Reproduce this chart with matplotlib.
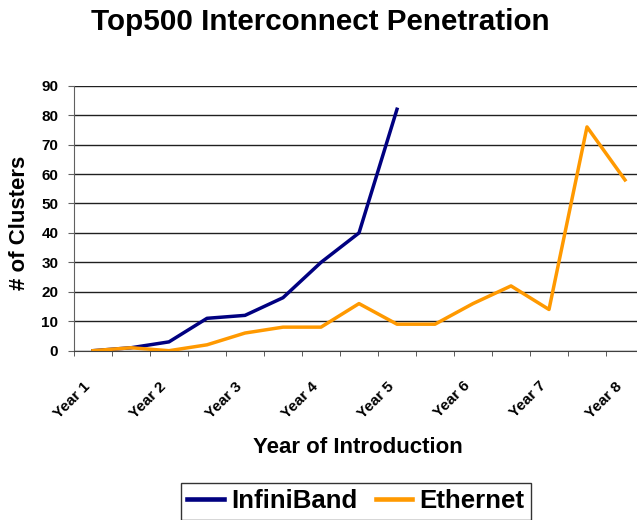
import matplotlib
matplotlib.use("Agg")
import matplotlib.pyplot as plt
from matplotlib.ticker import FixedLocator

plt.rcParams['font.family'] = ['Liberation Sans', 'DejaVu Sans']

tick_labels = ["Year 1", "Year 2", "Year 3", "Year 4", "Year 5", "Year 6", "Year 7", "Year 8"]
infiniband = [0, 1, 3, 11, 12, 18, 30, 40, 82]
ethernet = [0, 1, 0, 2, 6, 8, 8, 16, 9, 9, 16, 22, 14, 76, 58]

fig = plt.figure(figsize=(6.37, 5.2), dpi=100)
ax = fig.add_axes([74/637, 1-350.7/520, 1-74/637, (350.7-85.7)/520])

ax.plot(range(len(infiniband)), infiniband, color='#000080', lw=2.5, label='InfiniBand')
ax.plot(range(len(ethernet)), ethernet, color='#FF9900', lw=2.5, label='Ethernet')

ax.set_xlim(-0.5, -0.5 + 563/38)
ax.set_ylim(0, 90)
ax.set_yticks(range(0, 91, 10))
ax.set_xticks(range(0, 15, 2))
ax.set_xticklabels(tick_labels, rotation=45, ha='right', va='bottom', rotation_mode='anchor',
                   fontsize=11, fontweight='bold')
ax.xaxis.set_minor_locator(FixedLocator([i - 0.5 for i in range(16)]))
ax.tick_params(axis='x', which='major', length=0, pad=27.5)
ax.tick_params(axis='x', which='minor', length=3.6, color='#404040', direction='out')
ax.tick_params(axis='y', length=4.3, color='#606060', labelsize=11, pad=7)
for lab in ax.get_yticklabels():
    lab.set_fontweight('bold')

ax.grid(axis='y', color='#202020', lw=1)
ax.set_axisbelow(True)
for s in ['top', 'right']:
    ax.spines[s].set_visible(False)
ax.spines['left'].set_color('#606060')
ax.spines['bottom'].set_color('#404040')

fig.text(320/637, 1-30/520, "Top500 Interconnect Penetration", ha='center', va='baseline',
         fontsize=21.3, fontweight='bold')
fig.text(25/637, 1-223/520, "# of Clusters", ha='center', va='baseline', rotation=90,
         rotation_mode='anchor', fontsize=16, fontweight='bold')
fig.text(357.5/637, 1-453/520, "Year of Introduction", ha='center', va='baseline',
         fontsize=16, fontweight='bold')

leg = fig.legend(loc='upper left', bbox_to_anchor=(181/637, 1-483/520), ncol=2,
                 frameon=True, fancybox=False, edgecolor='black', handlelength=1.4,
                 columnspacing=0.7, handletextpad=0.3, borderpad=0.25, borderaxespad=0,
                 prop={'weight': 'bold', 'size': 18.6})
leg.get_frame().set_linewidth(1)
for h in leg.legend_handles:
    h.set_linewidth(3.3)

fig.savefig("out.png", dpi=100)
